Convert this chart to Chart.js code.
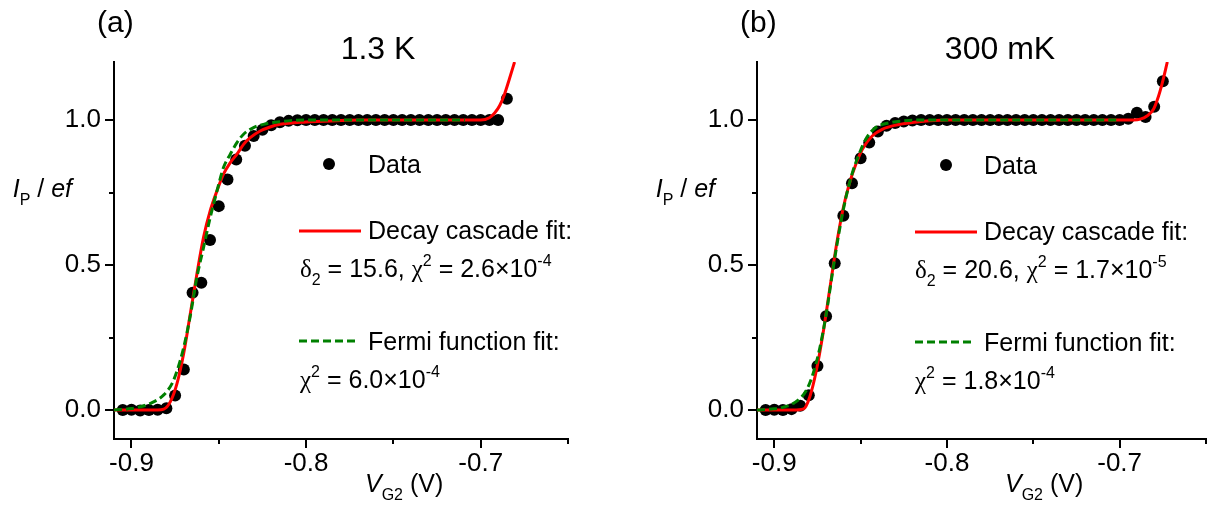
<!DOCTYPE html>
<html>
<head>
<meta charset="utf-8">
<script src="https://cdn.jsdelivr.net/npm/chart.js@4.4.1/dist/chart.umd.min.js"></script>
<style>
  html, body { margin: 0; padding: 0; background: #fff; }
  #wrap { position: relative; width: 1212px; height: 512px; overflow: hidden; }
  canvas { position: absolute; top: 0; }
</style>
</head>
<body>
<div id="wrap">
  <canvas id="cA" width="606" height="512" style="left:0;width:606px;height:512px"></canvas>
  <canvas id="cB" width="606" height="512" style="left:606px;width:606px;height:512px"></canvas>
</div>
<script>
const SANS = '"Liberation Sans", Arial, Helvetica, sans-serif';
const SERIF = '"Liberation Serif", "DejaVu Serif", "Times New Roman", serif';

// Axis ticks (shared by both panels)
const xTickValues = [-0.9, -0.8, -0.7];
const xTickLabels = ['-0.9', '-0.8', '-0.7'];
const xMinorValues = [-0.85, -0.75, -0.65];
const yTickValues = [0, 0.5, 1.0];
const yTickLabels = ['0.0', '0.5', '1.0'];
const yMinorValues = [0.25, 0.75];

// (a) 1.3 K : measured pump current, I_P / ef, vs gate voltage V_G2 (V)
const gateA = [-0.905, -0.900, -0.895, -0.890, -0.885, -0.880, -0.875, -0.870, -0.865, -0.860,
               -0.855, -0.850, -0.845, -0.840, -0.835, -0.830, -0.825, -0.820, -0.815, -0.810,
               -0.805, -0.800, -0.795, -0.790, -0.785, -0.780, -0.775, -0.770, -0.765, -0.760,
               -0.755, -0.750, -0.745, -0.740, -0.735, -0.730, -0.725, -0.720, -0.715, -0.710,
               -0.705, -0.700, -0.695, -0.690, -0.685];
const currentA = [0.000, 0.001, -0.002, 0.000, 0.001, 0.006, 0.050, 0.140, 0.404, 0.439,
                  0.586, 0.703, 0.795, 0.864, 0.911, 0.945, 0.966, 0.982, 0.992, 0.997,
                  0.999, 1.000, 1.000, 1.000, 1.000, 1.000, 1.000, 1.000, 1.000, 1.000,
                  1.000, 1.000, 1.000, 1.000, 1.000, 1.000, 1.000, 1.000, 1.000, 1.000,
                  1.000, 1.000, 1.000, 1.000, 1.073];
// decay cascade fit (a)
const cascadeGateA = [-0.910, -0.8850, -0.8815, -0.8777, -0.8739, -0.8701, -0.8663, -0.8625, -0.8587, -0.8549,
                      -0.8510, -0.8473, -0.8434, -0.8396, -0.8358, -0.8320, -0.8263, -0.8206, -0.8149, -0.8000,
                      -0.7800, -0.7700, -0.7000, -0.6950, -0.6920, -0.6891, -0.6863, -0.6834, -0.6806];
const cascadeA = [0.000, 0.000, 0.003, 0.029, 0.092, 0.195, 0.332, 0.470, 0.596, 0.687,
                  0.756, 0.813, 0.853, 0.882, 0.916, 0.939, 0.962, 0.976, 0.985, 0.993,
                  0.998, 1.000, 1.000, 1.008, 1.024, 1.050, 1.090, 1.145, 1.200];
// Fermi function fit (a)
const fermiGateA = [-0.910, -0.900, -0.895, -0.8891, -0.8815, -0.8767, -0.8739, -0.8701, -0.8663, -0.8625,
                    -0.8587, -0.8549, -0.8510, -0.8473, -0.8434, -0.8396, -0.8358, -0.8301, -0.8244, -0.8180,
                    -0.8100, -0.8000, -0.7090];
const fermiA = [0.000, 0.005, 0.011, 0.023, 0.052, 0.092, 0.135, 0.215, 0.325, 0.459,
                0.561, 0.664, 0.756, 0.836, 0.882, 0.922, 0.951, 0.974, 0.985, 0.992,
                0.997, 1.000, 1.000];

// (b) 300 mK
const gateB = [-0.905, -0.900, -0.895, -0.890, -0.885, -0.880, -0.875, -0.870, -0.865, -0.860,
               -0.855, -0.850, -0.845, -0.840, -0.835, -0.830, -0.825, -0.820, -0.815, -0.810,
               -0.805, -0.800, -0.795, -0.790, -0.785, -0.780, -0.775, -0.770, -0.765, -0.760,
               -0.755, -0.750, -0.745, -0.740, -0.735, -0.730, -0.725, -0.720, -0.715, -0.710,
               -0.705, -0.700, -0.695, -0.690, -0.685, -0.680, -0.675];
const currentB = [0.000, 0.001, 0.000, 0.003, 0.015, 0.051, 0.152, 0.323, 0.506, 0.670,
                  0.782, 0.868, 0.922, 0.960, 0.980, 0.990, 0.995, 0.998, 1.000, 1.000,
                  1.000, 1.000, 1.000, 1.000, 1.000, 1.000, 1.000, 1.000, 1.000, 1.000,
                  1.000, 1.000, 1.000, 1.000, 1.000, 1.000, 1.000, 1.000, 1.000, 1.000,
                  1.000, 1.000, 1.004, 1.025, 1.010, 1.046, 1.134];
const cascadeGateB = [-0.910, -0.8890, -0.8830, -0.8794, -0.8756, -0.8718, -0.8680, -0.8642, -0.8604, -0.8566,
                      -0.8527, -0.8490, -0.8433, -0.8375, -0.8300, -0.8200, -0.8100, -0.8000, -0.6920, -0.6880,
                      -0.6842, -0.6804, -0.6775, -0.6753, -0.6724];
const cascadeB = [0.000, 0.000, 0.004, 0.046, 0.137, 0.263, 0.412, 0.561, 0.687, 0.779,
                  0.848, 0.899, 0.945, 0.968, 0.982, 0.991, 0.997, 1.000, 1.000, 1.003,
                  1.014, 1.037, 1.082, 1.128, 1.200];
const fermiGateB = [-0.910, -0.900, -0.895, -0.8909, -0.8851, -0.8813, -0.8775, -0.8737, -0.8699, -0.8661,
                    -0.8623, -0.8585, -0.8547, -0.8509, -0.8470, -0.8413, -0.8337, -0.8250, -0.8150, -0.7020];
const fermiB = [0.000, 0.004, 0.009, 0.017, 0.040, 0.069, 0.126, 0.212, 0.332, 0.481,
                0.619, 0.733, 0.819, 0.882, 0.934, 0.974, 0.990, 0.997, 1.000, 1.000];

const pairs = (xs, ys) => xs.map((v, i) => ({ x: v, y: ys[i] }));

// Text runs with italic / subscript / superscript parts, drawn left to right on one baseline.
function runFont(r, size) {
  const s = (r.sub || r.sup) ? Math.round(size * 0.64) : size;
  return (r.it ? 'italic ' : '') + s + 'px ' + (r.fam || SANS);
}
function runsWidth(ctx, runs, size) {
  let w = 0;
  runs.forEach(r => { ctx.font = runFont(r, size); w += ctx.measureText(r.t).width; });
  return w;
}
function drawRuns(ctx, x, y, runs, size) {
  ctx.textAlign = 'left';
  ctx.textBaseline = 'alphabetic';
  runs.forEach(r => {
    ctx.font = runFont(r, size);
    const dy = r.sub ? size * 0.32 : (r.sup ? -size * 0.44 : 0);
    ctx.fillText(r.t, x, y + dy);
    x += ctx.measureText(r.t).width;
  });
  return x;
}

const decorations = {
  id: 'decorations',
  afterDraw(chart, args, opts) {
    const { ctx, chartArea: a } = chart;
    const xs = chart.scales.x, ys = chart.scales.y;
    const p = opts.panel;
    ctx.save();
    ctx.fillStyle = '#000';
    ctx.strokeStyle = '#000';
    ctx.lineWidth = 2;
    const seg = (x0, y0, x1, y1) => { ctx.beginPath(); ctx.moveTo(x0, y0); ctx.lineTo(x1, y1); ctx.stroke(); };
    // outward tick marks, long for labelled values, short in between
    xTickValues.forEach(v => { const px = Math.round(xs.getPixelForValue(v)); seg(px, a.bottom, px, a.bottom + 9); });
    xMinorValues.forEach(v => { const px = Math.round(xs.getPixelForValue(v)); seg(px, a.bottom, px, a.bottom + 5); });
    yTickValues.forEach(v => { const py = Math.round(ys.getPixelForValue(v)); seg(a.left - 9, py, a.left, py); });
    yMinorValues.forEach(v => { const py = Math.round(ys.getPixelForValue(v)); seg(a.left - 5, py, a.left, py); });

    // panel tag and temperature
    ctx.font = '30px ' + SANS;
    ctx.textAlign = 'left'; ctx.textBaseline = 'alphabetic';
    ctx.fillText(p.tag, p.tagX, 32);
    ctx.font = '32px ' + SANS;
    ctx.textAlign = 'center';
    ctx.fillText(p.title, p.titleX, 59);

    // axis titles
    drawRuns(ctx, p.xTitleX, 492, [{ t: 'V', it: true }, { t: 'G2', sub: true }, { t: ' (V)' }], 25);
    const yRuns = [{ t: 'I', it: true }, { t: 'P', sub: true }, { t: ' / ' }, { t: 'ef', it: true }];
    drawRuns(ctx, p.yTitleRight - runsWidth(ctx, yRuns, 25), 197, yRuns, 25);

    // legend
    const L = p.legend;
    ctx.beginPath(); ctx.arc(L.dotX, L.dotY, 6, 0, Math.PI * 2); ctx.fill();
    drawRuns(ctx, L.textX, L.dataBase, [{ t: 'Data' }], 25);

    ctx.lineWidth = 3;
    ctx.strokeStyle = '#ff0000';
    seg(L.lineX0, L.redY, L.lineX1, L.redY);
    drawRuns(ctx, L.textX, L.redY + 8, [{ t: 'Decay cascade fit:' }], 25);
    drawRuns(ctx, L.fitX, L.redY + 46, [
      { t: 'δ', fam: SERIF }, { t: '2', sub: true }, { t: ' = ' + L.delta + ', ' },
      { t: 'χ', fam: SERIF }, { t: '2', sup: true }, { t: ' = ' + L.chiCascade[0] + '×10' },
      { t: L.chiCascade[1], sup: true }], 25);

    ctx.strokeStyle = '#008000';
    ctx.setLineDash([8, 4]);
    seg(L.lineX0, L.greenY, L.dashX1, L.greenY);
    ctx.setLineDash([]);
    drawRuns(ctx, L.textX, L.greenY + 9, [{ t: 'Fermi function fit:' }], 25);
    drawRuns(ctx, L.fitX, L.greenY + 47, [
      { t: 'χ', fam: SERIF }, { t: '2', sup: true }, { t: ' = ' + L.chiFermi[0] + '×10' },
      { t: L.chiFermi[1], sup: true }], 25);
    ctx.restore();
  }
};

const panels = [
  {
    canvas: 'cA', areaLeft: 114, areaRight: 568,
    tag: '(a)', tagX: 97, title: '1.3 K', titleX: 378, xTitleX: 365, yTitleRight: 72,
    gate: gateA, current: currentA, cGate: cascadeGateA, cascade: cascadeA, fGate: fermiGateA, fermi: fermiA,
    legend: { dotX: 329, dotY: 164, dataBase: 173, textX: 368, lineX0: 299, lineX1: 361, dashX1: 357,
              redY: 231, greenY: 341, fitX: 300, delta: '15.6', chiCascade: ['2.6', '-4'], chiFermi: ['6.0', '-4'] }
  },
  {
    canvas: 'cB', areaLeft: 151, areaRight: 605,
    tag: '(b)', tagX: 134, title: '300 mK', titleX: 394, xTitleX: 399, yTitleRight: 109,
    gate: gateB, current: currentB, cGate: cascadeGateB, cascade: cascadeB, fGate: fermiGateB, fermi: fermiB,
    legend: { dotX: 340, dotY: 165, dataBase: 174, textX: 378, lineX0: 309, lineX1: 371, dashX1: 367,
              redY: 232, greenY: 342, fitX: 309, delta: '20.6', chiCascade: ['1.7', '-5'], chiFermi: ['1.8', '-4'] }
  }
];

const Y_AXIS_W = 100, X_AXIS_H = 60;
const zeroPad = s => { s.paddingLeft = 0; s.paddingRight = 0; s.paddingTop = 0; s.paddingBottom = 0; };

panels.forEach(p => {
  new Chart(document.getElementById(p.canvas), {
    type: 'scatter',
    data: {
      datasets: [
        { label: 'Fermi function fit', data: pairs(p.fGate, p.fermi), showLine: true,
          borderColor: '#008000', borderWidth: 3, borderDash: [8, 4], pointRadius: 0,
          cubicInterpolationMode: 'monotone', order: 0 },
        { label: 'Decay cascade fit', data: pairs(p.cGate, p.cascade), showLine: true,
          borderColor: '#ff0000', borderWidth: 3, pointRadius: 0,
          cubicInterpolationMode: 'monotone', order: 1 },
        { label: 'Data', data: pairs(p.gate, p.current), showLine: false,
          pointRadius: 6, pointBackgroundColor: '#000', pointBorderWidth: 0, order: 2 }
      ]
    },
    options: {
      responsive: false,
      animation: false,
      events: [],
      layout: { padding: { left: p.areaLeft - Y_AXIS_W, right: 606 - p.areaRight, top: 62, bottom: 512 - 439 - X_AXIS_H } },
      plugins: { legend: { display: false }, tooltip: { enabled: false }, decorations: { panel: p } },
      scales: {
        x: {
          type: 'linear', min: -0.91, max: -0.65,
          afterBuildTicks: s => { s.ticks = xTickValues.map(v => ({ value: v })); },
          afterFit: s => { s.height = X_AXIS_H; zeroPad(s); },
          ticks: { callback: (v, i) => xTickLabels[i], color: '#000', font: { family: SANS, size: 26 },
                   padding: 9, maxRotation: 0, minRotation: 0, autoSkip: false },
          grid: { display: true, drawOnChartArea: false, drawTicks: false },
          border: { display: true, color: '#000', width: 2 }
        },
        y: {
          type: 'linear', min: -0.1, max: 1.2,
          afterBuildTicks: s => { s.ticks = yTickValues.map(v => ({ value: v })); },
          afterFit: s => { s.width = Y_AXIS_W; zeroPad(s); },
          ticks: { callback: (v, i) => yTickLabels[i], color: '#000', font: { family: SANS, size: 26 },
                   padding: 13, autoSkip: false },
          grid: { display: true, drawOnChartArea: false, drawTicks: false },
          border: { display: true, color: '#000', width: 2 }
        }
      }
    },
    plugins: [decorations]
  });
});
</script>
</body>
</html>
